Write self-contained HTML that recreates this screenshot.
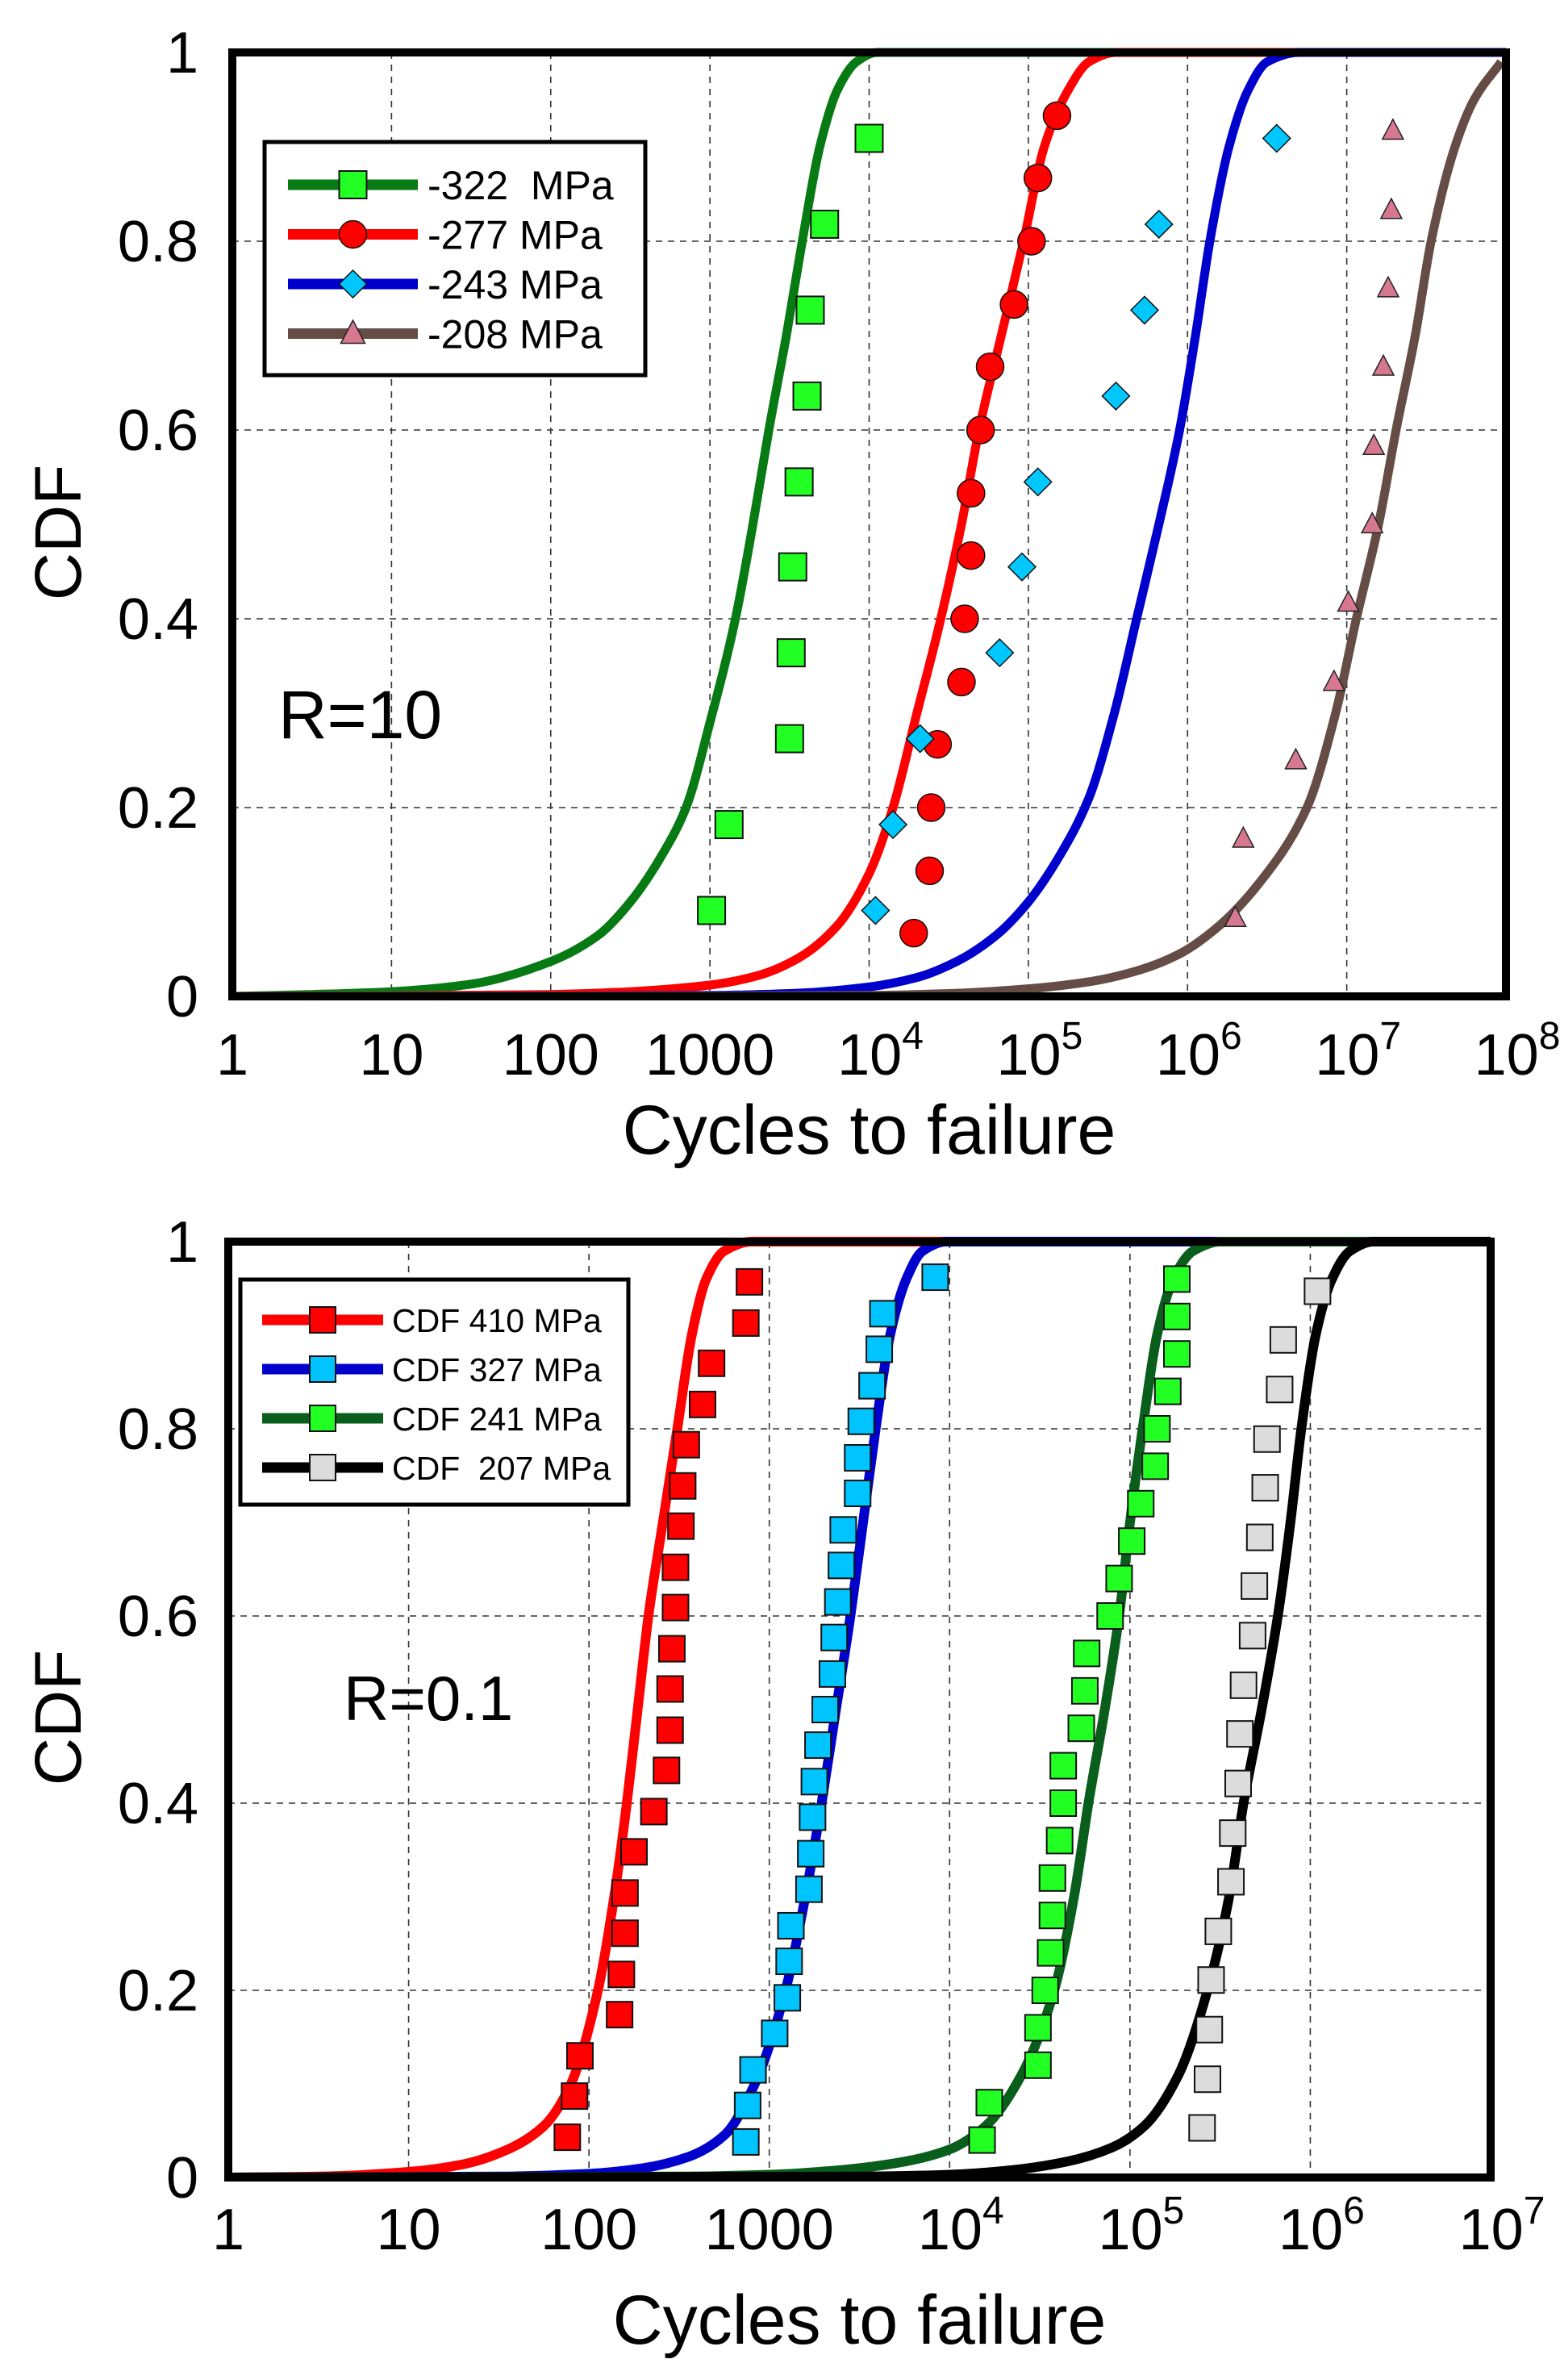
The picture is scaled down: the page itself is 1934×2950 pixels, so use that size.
<!DOCTYPE html>
<html><head><meta charset="utf-8">
<style>
html,body{margin:0;padding:0;background:#fff;}
svg{display:block;font-family:"Liberation Sans",Arial,sans-serif;}
</style></head>
<body>
<svg id="fig" width="1934" height="2950" viewBox="0 0 1934 2950" xmlns="http://www.w3.org/2000/svg">
  <g id="topChart"></g>
  <g id="botChart"></g>
</svg>
<script>
// ---------- TOP CHART DATA (R=10) ----------
const topXTickLabels = ["1","10","100","1000","10|4","10|5","10|6","10|7","10|8"];
const topYTickLabels = ["0","0.2","0.4","0.6","0.8","1"];
const topSeriesNames = ["-322  MPa","-277 MPa","-243 MPa","-208 MPa"];
// fitted curves: log10(cycles), CDF
const topCurveGreenX = [0,0.5,1,1.5,2,2.3,2.5,2.7,2.85,3.0,3.16,3.27,3.37,3.48,3.58,3.69,3.8,3.92,4.05,4.3,8];
const topCurveGreenY = [0,0.002,0.005,0.013,0.037,0.065,0.1,0.15,0.2,0.29,0.4,0.5,0.6,0.7,0.8,0.9,0.96,0.99,1,1,1];
const topCurveRedX = [0,1,2,2.5,3,3.3,3.55,3.8,4.0,4.15,4.3,4.45,4.58,4.69,4.83,4.97,5.1,5.25,5.38,5.55,5.8,8];
const topCurveRedY = [0,0.0005,0.002,0.005,0.012,0.022,0.04,0.075,0.13,0.2,0.3,0.4,0.5,0.6,0.7,0.8,0.9,0.96,0.99,1,1,1];
const topCurveBlueX = [0,2,3,3.5,4,4.3,4.55,4.8,5.0,5.2,5.38,5.54,5.68,5.82,5.95,6.05,6.14,6.26,6.38,6.5,6.7,8];
const topCurveBlueY = [0,0.0003,0.001,0.003,0.01,0.02,0.037,0.065,0.1,0.15,0.21,0.3,0.4,0.5,0.6,0.7,0.8,0.9,0.96,0.99,1,1];
const topCurveBrownX = [0,3,4,4.5,5,5.4,5.7,5.95,6.2,6.45,6.75,6.93,7.06,7.2,7.31,7.43,7.53,7.68,7.8,7.97];
const topCurveBrownY = [0,0.0003,0.001,0.003,0.008,0.016,0.028,0.045,0.075,0.12,0.2,0.3,0.4,0.5,0.6,0.7,0.8,0.9,0.95,0.99];
// experimental points: log10(cycles), CDF
const topPtsGreenX = [3.01,3.12,3.50,3.51,3.52,3.56,3.61,3.63,3.72,4.00];
const topPtsGreenY = [0.091,0.182,0.273,0.364,0.455,0.545,0.636,0.727,0.818,0.909];
const topPtsRedX = [4.28,4.38,4.39,4.43,4.58,4.60,4.64,4.64,4.70,4.76,4.91,5.02,5.06,5.18];
const topPtsRedY = [0.067,0.133,0.2,0.267,0.333,0.4,0.467,0.533,0.6,0.667,0.733,0.8,0.867,0.933];
const topPtsBlueX = [4.04,4.15,4.32,4.82,4.96,5.06,5.55,5.73,5.82,6.56];
const topPtsBlueY = [0.091,0.182,0.273,0.364,0.455,0.545,0.636,0.727,0.818,0.909];
const topPtsBrownX = [6.30,6.35,6.68,6.92,7.01,7.16,7.17,7.23,7.26,7.28,7.29];
const topPtsBrownY = [0.083,0.167,0.25,0.333,0.417,0.5,0.583,0.667,0.75,0.833,0.917];

// ---------- BOTTOM CHART DATA (R=0.1) ----------
const botXTickLabels = ["1","10","100","1000","10|4","10|5","10|6","10|7"];
const botYTickLabels = ["0","0.2","0.4","0.6","0.8","1"];
const botSeriesNames = ["CDF 410 MPa","CDF 327 MPa","CDF 241 MPa","CDF  207 MPa"];
const botCurveRedX = [0,0.5,1,1.3,1.55,1.75,1.9,2.05,2.14,2.21,2.27,2.33,2.41,2.49,2.57,2.65,2.75,2.9,7];
const botCurveRedY = [0,0.001,0.006,0.014,0.03,0.055,0.1,0.2,0.3,0.4,0.5,0.6,0.7,0.8,0.9,0.96,0.99,1,1];
const botCurveBlueX = [0,1.5,2,2.3,2.55,2.75,2.92,3.09,3.2,3.29,3.37,3.45,3.52,3.59,3.67,3.76,3.85,3.98,7];
const botCurveBlueY = [0,0.001,0.004,0.01,0.022,0.045,0.1,0.2,0.3,0.4,0.5,0.6,0.7,0.8,0.9,0.96,0.99,1,1];
const botCurveGreenX = [0,2.5,3,3.4,3.75,4.0,4.2,4.4,4.58,4.69,4.77,4.86,4.94,5.0,5.07,5.15,5.24,5.35,5.5,7];
const botCurveGreenY = [0,0.001,0.003,0.008,0.017,0.03,0.055,0.11,0.2,0.3,0.4,0.5,0.6,0.7,0.8,0.9,0.96,0.99,1,1];
const botCurveBlackX = [0,3.5,4,4.35,4.65,4.9,5.08,5.27,5.43,5.55,5.63,5.73,5.82,5.89,5.95,6.03,6.12,6.22,6.35,7];
const botCurveBlackY = [0,0.001,0.003,0.008,0.017,0.032,0.055,0.11,0.2,0.3,0.4,0.5,0.6,0.7,0.8,0.9,0.96,0.99,1,1];
const botPtsRedX = [1.88,1.92,1.95,2.17,2.18,2.20,2.20,2.25,2.36,2.43,2.45,2.45,2.46,2.48,2.48,2.51,2.52,2.54,2.63,2.68,2.87,2.89];
const botPtsRedY = [0.043,0.087,0.13,0.174,0.217,0.261,0.304,0.348,0.391,0.435,0.478,0.522,0.565,0.609,0.652,0.696,0.739,0.783,0.826,0.87,0.913,0.957];
const botPtsBlueX = [2.87,2.88,2.91,3.03,3.10,3.11,3.12,3.22,3.23,3.24,3.25,3.27,3.31,3.35,3.36,3.38,3.40,3.41,3.49,3.49,3.51,3.57,3.61,3.63,3.92];
const botPtsBlueY = [0.038,0.077,0.115,0.154,0.192,0.231,0.269,0.308,0.346,0.385,0.423,0.462,0.5,0.538,0.577,0.615,0.654,0.692,0.731,0.769,0.808,0.846,0.885,0.923,0.962];
const botPtsGreenX = [4.18,4.22,4.49,4.49,4.53,4.56,4.57,4.57,4.61,4.63,4.63,4.73,4.75,4.76,4.89,4.94,5.01,5.06,5.14,5.15,5.21,5.26,5.26,5.26];
const botPtsGreenY = [0.04,0.08,0.12,0.16,0.2,0.24,0.28,0.32,0.36,0.4,0.44,0.48,0.52,0.56,0.6,0.64,0.68,0.72,0.76,0.8,0.84,0.88,0.92,0.96];
const botPtsGreyX = [5.40,5.43,5.44,5.45,5.49,5.56,5.57,5.60,5.61,5.63,5.68,5.69,5.72,5.75,5.76,5.83,5.85,6.04];
const botPtsGreyY = [0.053,0.105,0.158,0.211,0.263,0.316,0.368,0.421,0.474,0.526,0.579,0.632,0.684,0.737,0.789,0.842,0.895,0.947];

const NS = "http://www.w3.org/2000/svg";
function mk(tag, attrs, parent){
  const e = document.createElementNS(NS, tag);
  for (const k in attrs) e.setAttribute(k, attrs[k]);
  if (parent) parent.appendChild(e);
  return e;
}
// monotone cubic (Fritsch-Carlson), x strictly increasing
function smoothPath(px, py){
  const n = px.length;
  const h = [], d = [];
  for (let i = 0; i < n-1; i++){ h.push(px[i+1]-px[i]); d.push((py[i+1]-py[i])/h[i]); }
  const m = new Array(n);
  m[0] = d[0]; m[n-1] = d[n-2];
  for (let i = 1; i < n-1; i++){
    if (d[i-1]*d[i] <= 0) m[i] = 0;
    else {
      const w1 = 2*h[i]+h[i-1], w2 = h[i]+2*h[i-1];
      m[i] = (w1+w2)/(w1/d[i-1] + w2/d[i]);
    }
  }
  let s = "M" + px[0].toFixed(1) + "," + py[0].toFixed(1);
  for (let i = 0; i < n-1; i++){
    const c1x = px[i] + h[i]/3, c1y = py[i] + m[i]*h[i]/3;
    const c2x = px[i+1] - h[i]/3, c2y = py[i+1] - m[i+1]*h[i]/3;
    s += " C" + c1x.toFixed(1)+","+c1y.toFixed(1)+" "+c2x.toFixed(1)+","+c2y.toFixed(1)+" "+px[i+1].toFixed(1)+","+py[i+1].toFixed(1);
  }
  return s;
}
function marker(g, kind, cx, cy, s, fill){
  let e;
  if (kind === "square") e = mk("rect", {x:cx-s/2, y:cy-s/2, width:s, height:s, fill:fill, stroke:"#111", "stroke-width":2}, g);
  else if (kind === "circle") e = mk("circle", {cx:cx, cy:cy, r:s/2, fill:fill, stroke:"#111", "stroke-width":1.5}, g);
  else if (kind === "diamond") e = mk("polygon", {points:`${cx},${cy-s/2} ${cx+s/2},${cy} ${cx},${cy+s/2} ${cx-s/2},${cy}`, fill:fill, stroke:"#111", "stroke-width":1.5}, g);
  else e = mk("polygon", {points:`${cx},${cy-s*0.55} ${cx+s*0.5},${cy+s*0.4} ${cx-s*0.5},${cy+s*0.4}`, fill:fill, stroke:"#222", "stroke-width":1.5}, g);
  return e;
}

function drawChart(cfg){
  const g = document.getElementById(cfg.id);
  const {L,R,T,B,decades} = cfg;
  const xs = v => L + (R-L)*v/decades;
  const ys = v => B - (B-T)*v;

  const grid = mk("g", {}, g);
  
  
  for (let i = 1; i < decades; i++){
    const l = mk("line", {x1:xs(i), x2:xs(i), y1:T, y2:B, stroke:"#333", "stroke-width":1.6, "stroke-dasharray":"8 7"}, grid);
    
    
  }
  for (let j = 1; j < 5; j++){
    const l = mk("line", {x1:L, x2:R, y1:ys(j*0.2), y2:ys(j*0.2), stroke:"#333", "stroke-width":1.6, "stroke-dasharray":"8 7"}, grid);
    
    
  }

  const cid = cfg.id + "-clip";
  const cp = mk("clipPath", {id:cid}, g);
  mk("rect", {x:L, y:T-8, width:R-L, height:B-T+8}, cp);

  cfg.curves.forEach((c) => {
    const p = mk("path", {d:smoothPath(c.x.map(xs), c.y.map(ys)), fill:"none", stroke:c.color, "stroke-width":cfg.lw, "stroke-linejoin":"round", "clip-path":`url(#${cid})`}, g);
    
    
  });
  cfg.points.forEach(pt => {
    const pg = mk("g", {}, g);
    
    
    pt.x.forEach((v, i) => {
      const m = marker(pg, pt.kind, xs(v), ys(pt.y[i]), pt.size, pt.fill);
      
      
    });
  });

  const fr = mk("rect", {x:L, y:T, width:R-L, height:B-T, fill:"none", stroke:"#000", "stroke-width":10}, g);
  
  

  cfg.yLabels.forEach((lab, j) => {
    const t = mk("text", {x:cfg.yLabelRight, y:ys(j*0.2)+25, "text-anchor":"end", "font-size":72, fill:"#000"}, g);
    t.textContent = lab;
    
    
  });
  cfg.xLabels.forEach((lab, i) => {
    const t = mk("text", {x:xs(i), y:cfg.xLabelBase, "text-anchor":"middle", "font-size":72, fill:"#000"}, g);
    const parts = lab.split("|");
    t.appendChild(document.createTextNode(parts[0]));
    if (parts.length > 1){
      const s = mk("tspan", {"font-size":48, dy:-32}, t);
      s.textContent = parts[1];
      t.setAttribute("x", xs(i) + 14);
    }
    
    
  });
  const xt = mk("text", {x:(L+R)/2, y:cfg.xTitleBase, "text-anchor":"middle", "font-size":86, fill:"#000"}, g);
  xt.textContent = "Cycles to failure";
  
  
  const yt = mk("text", {x:0, y:0, "text-anchor":"middle", "font-size":82, fill:"#000", transform:`translate(100,${(T+B)/2+10}) rotate(-90)`}, g);
  yt.textContent = "CDF";
  
  
  const an = mk("text", {x:cfg.ann.x, y:cfg.ann.y, "font-size":cfg.ann.size, fill:"#000"}, g);
  an.textContent = cfg.ann.text;
  
  

  const lg = mk("g", {}, g);
  
  
  const Lg = cfg.legend;
  mk("rect", {x:Lg.x, y:Lg.y, width:Lg.w, height:Lg.h, fill:"#fff", stroke:"#000", "stroke-width":5}, lg);
  cfg.curves.forEach((c, k) => {
    const ey = Lg.row0 + k*Lg.dy;
    const eg = mk("g", {}, lg);
    
    
    mk("line", {x1:Lg.lx1, x2:Lg.lx2, y1:ey, y2:ey, stroke:c.color, "stroke-width":13}, eg);
    const pt = cfg.points[k];
    marker(eg, pt.kind, (Lg.lx1+Lg.lx2)/2, ey, pt.kind==="triangle"?30:Lg.ms, pt.fill);
    const t = mk("text", {x:Lg.tx, y:ey+Lg.fs*0.36, "font-size":Lg.fs, fill:"#000"}, eg);
    t.textContent = cfg.names[k];
    t.setAttribute("xml:space","preserve");
    t.style.whiteSpace = "pre";
  });
}

drawChart({
  id:"topChart", L:288, R:1867, T:65, B:1235, decades:8, lw:11,
  yLabels: topYTickLabels, xLabels: topXTickLabels, names: topSeriesNames,
  yLabelRight:246, xLabelBase:1332, xTitleBase:1430,
  ann:{x:345, y:915, size:84, text:"R=10"},
  legend:{x:328, y:176, w:472, h:289, row0:229, dy:61.5, lx1:357, lx2:518, ms:34, tx:530, fs:50},
  curves:[
    {key:"322", x:topCurveGreenX, y:topCurveGreenY, color:"#087a14"},
    {key:"277", x:topCurveRedX, y:topCurveRedY, color:"#ff0000"},
    {key:"243", x:topCurveBlueX, y:topCurveBlueY, color:"#0000cc"},
    {key:"208", x:topCurveBrownX, y:topCurveBrownY, color:"#654c44"}
  ],
  points:[
    {key:"322", x:topPtsGreenX, y:topPtsGreenY, kind:"square", size:34, fill:"#22ff22"},
    {key:"277", x:topPtsRedX, y:topPtsRedY, kind:"circle", size:34, fill:"#ff0000"},
    {key:"243", x:topPtsBlueX, y:topPtsBlueY, kind:"diamond", size:34, fill:"#00c8ff"},
    {key:"208", x:topPtsBrownX, y:topPtsBrownY, kind:"triangle", size:26, fill:"#d67890"}
  ]
});

drawChart({
  id:"botChart", L:283, R:1848, T:1539, B:2699, decades:7, lw:12,
  yLabels: botYTickLabels, xLabels: botXTickLabels, names: botSeriesNames,
  yLabelRight:246, xLabelBase:2788, xTitleBase:2905,
  ann:{x:426, y:2132, size:78, text:"R=0.1"},
  legend:{x:298, y:1586, w:481, h:279, row0:1636, dy:61, lx1:325, lx2:475, ms:32, tx:486, fs:41},
  curves:[
    {key:"410", x:botCurveRedX, y:botCurveRedY, color:"#ff0000"},
    {key:"327", x:botCurveBlueX, y:botCurveBlueY, color:"#0000cc"},
    {key:"241", x:botCurveGreenX, y:botCurveGreenY, color:"#0a5e1c"},
    {key:"207", x:botCurveBlackX, y:botCurveBlackY, color:"#000000"}
  ],
  points:[
    {key:"410", x:botPtsRedX, y:botPtsRedY, kind:"square", size:32, fill:"#ff0000"},
    {key:"327", x:botPtsBlueX, y:botPtsBlueY, kind:"square", size:32, fill:"#00c4ff"},
    {key:"241", x:botPtsGreenX, y:botPtsGreenY, kind:"square", size:32, fill:"#22ff22"},
    {key:"207", x:botPtsGreyX, y:botPtsGreyY, kind:"square", size:32, fill:"#dcdcdc"}
  ]
});
</script>
</body></html>
